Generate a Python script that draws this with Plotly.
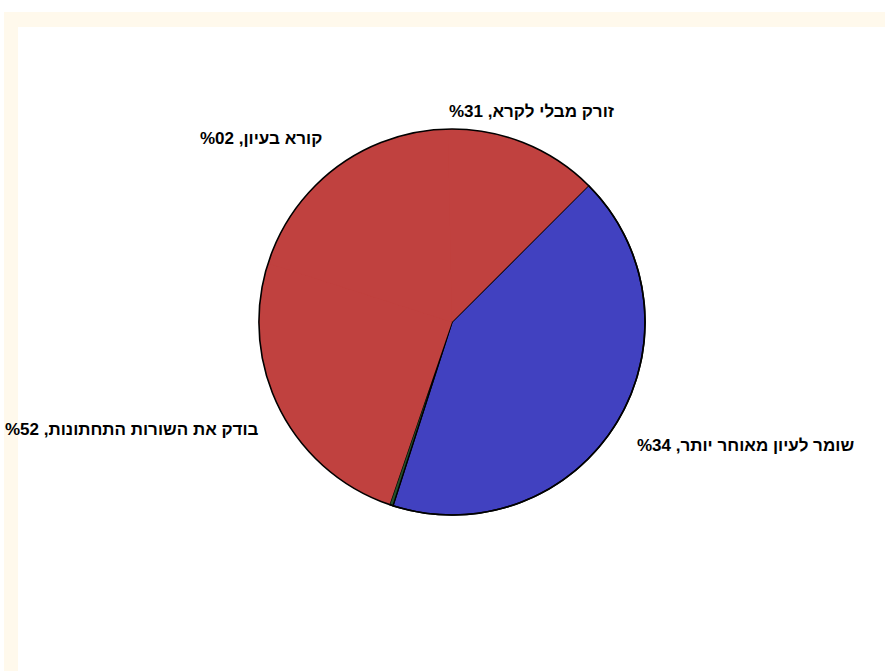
import math
import plotly.graph_objects as go

# Reader behaviour survey: share of readers per reaction
categories = ["שומר לעיון מאוחר יותר", "", "בודק את השורות התחתונות", "קורא בעיון", "זורק מבלי לקרא"]
values = [43, 0.3, 25, 20, 13]
colors = ["#4141C0", "#23502B", "#C0413F", "#C0413F", "#C0413F"]
outline_widths = [1.6, 1.2, 0, 0, 0]

# Labels: name, then the percentage written in right-to-left visual order
label_text = [f"{c}, %{str(v)[::-1]}" if c else "" for c, v in zip(categories, values)]

W, H = 885, 671
cx, cy, r = 452, 322, 193
start_angle = 45  # degrees clockwise from 12 o'clock
domain = dict(
    x=[(cx - 260) / W, (cx + 260) / W],
    y=[1 - (cy + r) / H, 1 - (cy - r) / H],
)

fig = go.Figure()

# red disc underneath so the red sectors blend without seams
fig.add_trace(go.Pie(
    values=[1], labels=["base"], domain=domain, sort=False,
    marker=dict(colors=["#C0413F"], line=dict(width=0)),
    textinfo="none", hoverinfo="skip", showlegend=False,
))

fig.add_trace(go.Pie(
    labels=categories, values=values,
    textinfo="none",
    marker=dict(colors=colors, line=dict(color="black", width=outline_widths)),
    sort=False, direction="clockwise", rotation=start_angle,
    domain=domain, showlegend=False, hoverinfo="label+percent",
))

# black rim around the whole pie
fig.add_trace(go.Pie(
    values=[1], labels=["rim"], domain=domain, sort=False,
    marker=dict(colors=["rgba(0,0,0,0)"], line=dict(color="black", width=1.6)),
    textinfo="none", hoverinfo="skip", showlegend=False,
))

# outside labels placed at each slice's mid angle, just beyond the rim
total = sum(values)
angle = start_angle
for txt, v in zip(label_text, values):
    sweep = 360 * v / total
    mid = math.radians(angle + sweep / 2)
    angle += sweep
    if not txt:
        continue
    s, c = math.sin(mid), math.cos(mid)
    px = cx + 1.11 * r * s
    py = cy - 1.11 * r * c
    xanchor = "center" if abs(s) < 0.5 else ("left" if s > 0 else "right")
    yanchor = "bottom" if c > 0 else "top"
    fig.add_annotation(
        x=px / W, y=1 - py / H, xref="paper", yref="paper",
        text=txt, showarrow=False, xanchor=xanchor, yanchor=yanchor,
        font=dict(family="Arial, Liberation Sans, sans-serif", size=17, color="black", weight="bold"),
    )

# cream frame around the chart area
fig.add_shape(type="rect", xref="paper", yref="paper", layer="below",
              x0=4 / W, x1=1.05, y0=-0.05, y1=1 - 12 / H,
              fillcolor="#FFF9EC", line=dict(width=0))
fig.add_shape(type="rect", xref="paper", yref="paper", layer="below",
              x0=18 / W, x1=1.05, y0=-0.05, y1=1 - 27 / H,
              fillcolor="white", line=dict(width=0))

fig.update_layout(
    width=W, height=H,
    margin=dict(l=0, r=0, t=0, b=0, autoexpand=False),
    paper_bgcolor="white", plot_bgcolor="white",
    showlegend=False,
)

fig.write_html("out.html")
